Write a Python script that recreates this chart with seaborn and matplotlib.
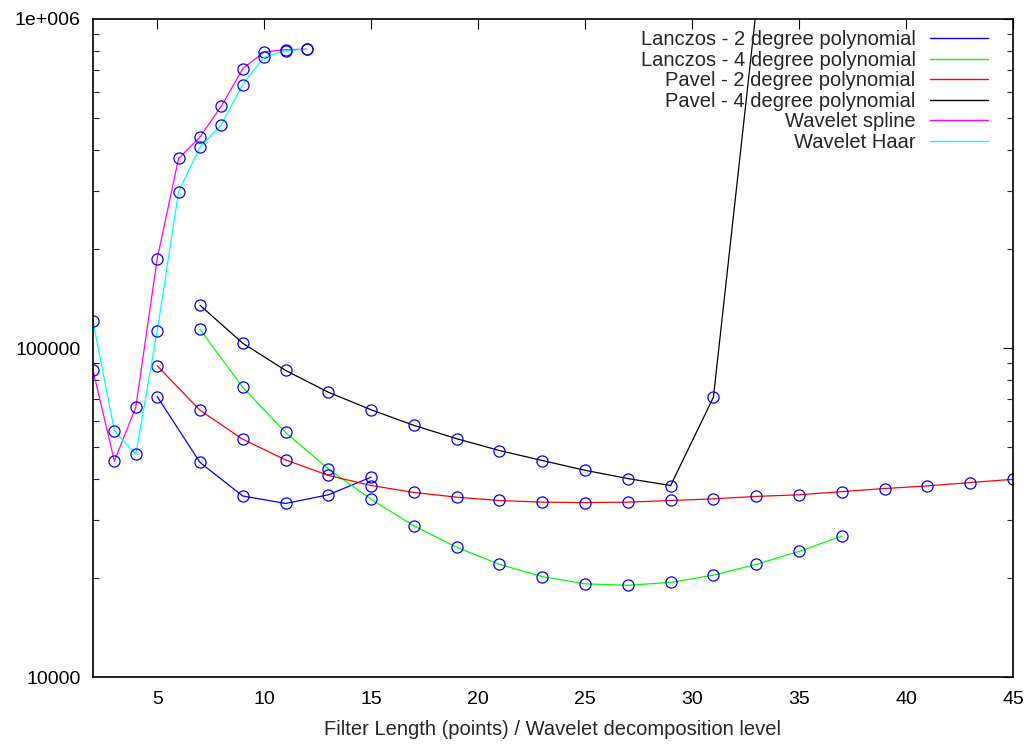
import matplotlib
matplotlib.use("Agg")
import matplotlib.pyplot as plt
import seaborn as sns
import pandas as pd
from matplotlib.lines import Line2D
from matplotlib.ticker import FixedLocator, FixedFormatter, LogLocator, NullFormatter

sns.set_theme(style="white")
plt.rcParams['font.family'] = ['Liberation Sans', 'DejaVu Sans']

# ---- data ----
lanczos2_x = [5, 7, 9, 11, 13, 15]
lanczos2_y = [71200, 44900, 35500, 33700, 35800, 40500]

lanczos4_x = [7, 9, 11, 13, 15, 17, 19, 21, 23, 25, 27, 29, 31, 33, 35, 37]
lanczos4_y = [114000, 75900, 55400, 42900, 34700, 28800, 24800, 22000, 20200,
              19200, 19000, 19400, 20400, 22000, 24100, 26800]

pavel2_x = [5, 7, 9, 11, 13, 15, 17, 19, 21, 23, 25, 27, 29, 31, 33, 35, 37, 39, 41, 43, 45]
pavel2_y = [88300, 64700, 52800, 45700, 41000, 38200, 36400, 35200, 34400, 34000,
            33900, 34000, 34400, 34800, 35400, 35800, 36600, 37400, 38100, 39000, 39900]

pavel4_x = [7, 9, 11, 13, 15, 17, 19, 21, 23, 25, 27, 29, 31, 33]
pavel4_y = [134900, 103400, 85500, 73400, 64900, 58200, 53000, 48800, 45500,
            42500, 40100, 38200, 70900, 1070000]

spline_x = [2, 3, 4, 5, 6, 7, 8, 9, 10, 11, 12]
spline_y = [85600, 45300, 66100, 186500, 376700, 437500, 543500, 706300, 794000, 807000, 809000]

haar_x = [2, 3, 4, 5, 6, 7, 8, 9, 10, 11, 12]
haar_y = [120600, 56100, 47500, 112500, 298500, 407900, 476600, 632000, 765000, 801000, 809000]

series_names = ["Lanczos - 2 degree polynomial", "Lanczos - 4 degree polynomial",
                "Pavel - 2 degree polynomial", "Pavel - 4 degree polynomial",
                "Wavelet spline", "Wavelet Haar"]
series_x = [lanczos2_x, lanczos4_x, pavel2_x, pavel4_x, spline_x, haar_x]
series_y = [lanczos2_y, lanczos4_y, pavel2_y, pavel4_y, spline_y, haar_y]
colors = ["#0000ff", "#00ff00", "#ff0000", "#000000", "#ff00ff", "#00ffff"]

x_ticks = [5, 10, 15, 20, 25, 30, 35, 40, 45]
y_ticks = [10000, 100000, 1000000]
y_tick_labels = ["10000", "100000", "1e+006"]
x_label = "Filter Length (points) / Wavelet decomposition level"

# ---- plot ----
fig = plt.figure(figsize=(10.31, 7.44), dpi=100)
ax = fig.add_axes([0.0902, 0.09, 0.9825 - 0.0902, 0.9745 - 0.09])

handles = []
for name, xs, ys, c in zip(series_names, series_x, series_y, colors):
    df = pd.DataFrame({"x": xs, "y": ys})
    sns.lineplot(data=df, x="x", y="y", ax=ax, color=c, linewidth=0.9,
                 marker="o", markersize=8, markerfacecolor="none",
                 markeredgecolor="#0000ff", markeredgewidth=0.9,
                 estimator=None, sort=False, legend=False)
    handles.append(Line2D([0], [0], color=c, linewidth=1.0))

ax.set_yscale("log")
ax.set_xlim(2, 45)
ax.set_ylim(10000, 1000000)

ax.xaxis.set_major_locator(FixedLocator(x_ticks))
ax.set_xticklabels([str(t) for t in x_ticks])
ax.yaxis.set_major_locator(FixedLocator(y_ticks))
ax.yaxis.set_major_formatter(FixedFormatter(y_tick_labels))
ax.yaxis.set_minor_locator(LogLocator(base=10, subs=range(2, 10)))
ax.yaxis.set_minor_formatter(NullFormatter())

ax.tick_params(axis="both", which="major", direction="in", length=7, width=0.8,
               top=True, right=True, labelsize=14, colors="black")
ax.tick_params(axis="x", which="major", pad=10)
ax.tick_params(axis="y", which="major", pad=9)
ax.tick_params(axis="y", which="minor", direction="in", length=4.5, width=0.8,
               left=True, right=True)
for sp in ax.spines.values():
    sp.set_color("black")
    sp.set_linewidth(1.2)

ax.set_xlabel(x_label, fontsize=14.5, labelpad=9)
ax.set_ylabel("")

leg = ax.legend(handles, series_names, loc="upper right", frameon=False,
                markerfirst=False, fontsize=14.5, handlelength=2.9,
                handletextpad=0.7, labelspacing=0.08,
                borderaxespad=0.15, bbox_to_anchor=(0.985, 1.0))
for t in leg.get_texts():
    t.set_ha("right")
leg._legend_box.align = "right"

fig.savefig("out.png", dpi=100)
